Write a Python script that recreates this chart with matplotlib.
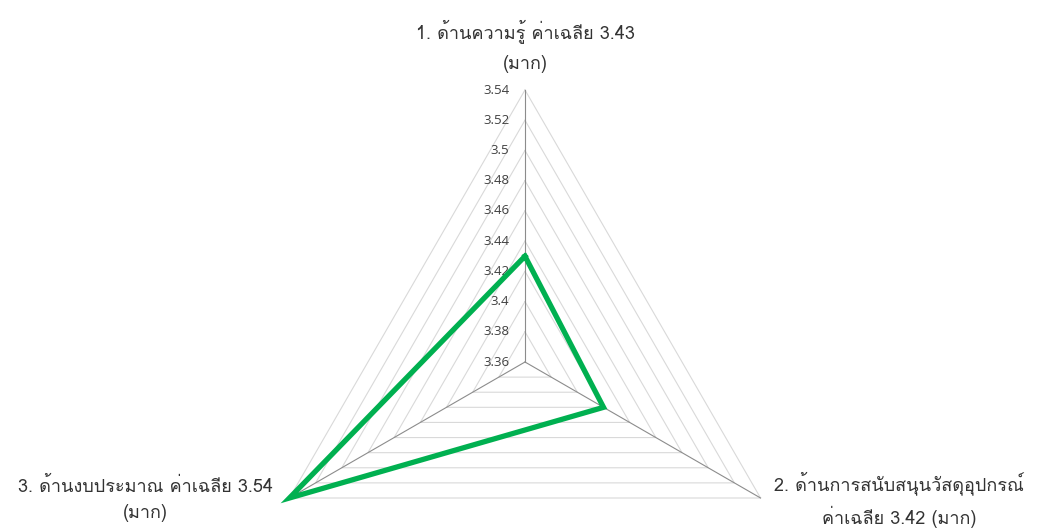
import numpy as np
import matplotlib
matplotlib.use("Agg")
import matplotlib.pyplot as plt
from matplotlib import font_manager
from matplotlib.ft2font import FT2Font

# data
categories = [
    "1. ด้านความรู้ ค่าเฉลีย 3.43\n(มาก)",
    "2. ด้านการสนับสนุนวัสดุอุปกรณ์\nค่าเฉลีย 3.42 (มาก)",
    "3. ด้านงบประมาณ ค่าเฉลีย 3.54\n(มาก)",
]
values = [3.43, 3.42, 3.54]
ticks = [3.36, 3.38, 3.40, 3.42, 3.44, 3.46, 3.48, 3.50, 3.52, 3.54]
tick_labels = ["3.36", "3.38", "3.4", "3.42", "3.44", "3.46", "3.48", "3.5", "3.52", "3.54"]

R_MIN, R_MAX = ticks[0], ticks[-1]


def find_thai_font():
    found = []
    for fe in font_manager.fontManager.ttflist:
        try:
            cmap = FT2Font(fe.fname).get_charmap()
        except Exception:
            continue
        if 0x0E14 in cmap and 0x0031 in cmap:
            found.append(fe)
    if not found:
        return None
    found.sort(key=lambda f: (f.weight != 400 and f.weight != "normal", f.style != "normal"))
    return found[0].name


thai = find_thai_font()
families = ([thai] if thai else []) + ["Noto Sans", "DejaVu Sans"]
plt.rcParams["font.family"] = families

# angles: first axis at top, going clockwise
angles = np.pi / 2 - np.arange(len(values)) * 2 * np.pi / len(values)


def to_xy(v, a):
    r = (v - R_MIN) / (R_MAX - R_MIN)
    return r * np.cos(a), r * np.sin(a)


fig = plt.figure(figsize=(10.37, 5.31), dpi=100)
ax = fig.add_axes([0, 0, 1, 1])
ax.set_xlim(-525 / 272, (1037 - 525) / 272)
ax.set_ylim(-169 / 272, (531 - 169) / 272)
ax.axis("off")

# rings
for t in ticks[1:]:
    xs, ys = to_xy(np.full(len(angles) + 1, t), np.append(angles, angles[0]))
    ax.plot(xs, ys, color="#d9d9d9", lw=0.8, zorder=1)

# spokes
for a in angles:
    xs, ys = to_xy(np.array([R_MIN, R_MAX]), np.array([a, a]))
    ax.plot(xs, ys, color="#8c8c8c", lw=0.8, zorder=2)

# tick labels along first spoke
for t, lab in zip(ticks, tick_labels):
    x, y = to_xy(t, angles[0])
    ax.text(x - 0.058, y, lab, ha="right", va="center", fontsize=9.5, color="#404040",
            family=["Open Sans", "DejaVu Sans"])

# data polygon
xs, ys = to_xy(np.append(values, values[0]), np.append(angles, angles[0]))
ax.plot(xs, ys, color="#00b050", lw=3.8, solid_joinstyle="miter", zorder=3)

# category labels
label_kw = dict(fontsize=13, color="#333333", linespacing=1.85)
ax.text(0, 1.064, categories[0], ha="center", va="bottom", **label_kw)
label_kw["linespacing"] = 1.6
ax.text(1.375, -0.505, categories[1], ha="center", va="center", **label_kw)
ax.text(-1.397, -0.505, categories[2], ha="center", va="center", **label_kw)

fig.savefig("out.png", dpi=100)
